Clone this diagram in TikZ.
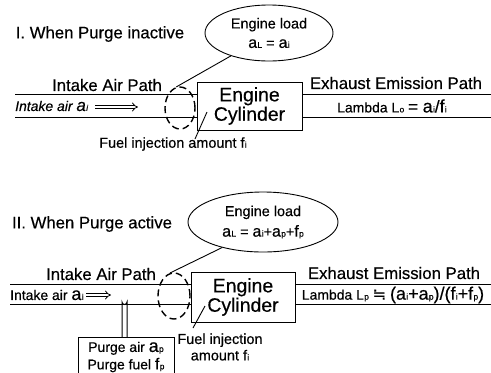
\documentclass[tikz,border=0pt]{standalone}
\usepackage{fontspec}
\setmainfont{Liberation Sans}[FakeBold=0.4]
\newfontfamily\symfont{DejaVu Sans}[FakeBold=0.4]
\usetikzlibrary{shapes.geometric,arrows.meta}
\newcommand\fs[1]{\fontsize{#1}{#1}\selectfont}
\newcommand\sbs[3]{{\fs{#1}#2}\kern0.3pt{\fs{8.5}#3}}
\begin{document}
\begin{tikzpicture}[x=1bp,y=-1bp,
  lbl/.style={inner sep=0pt,font=\fs{14}},
  ttl/.style={inner sep=0pt,font=\fs{16.8}},
  cyl/.style={draw,line width=1bp,minimum width=105bp,minimum height=48bp,align=center,font=\fs{19.5},inner sep=0pt},
  load/.style={draw,ellipse,line width=0.9bp,inner sep=0pt,align=center,font=\fs{14.5}},
  duct/.style={line width=1bp},
  dashell/.style={draw,ellipse,dashed,dash pattern=on 7bp off 4bp,line width=1.4bp,inner sep=0pt},
  lead/.style={line width=0.9bp},
  flow/.style={double,double distance=2.2bp,line width=0.8bp,-{Implies[]}}
]
\useasboundingbox (0,0) rectangle (491,372);
% ---------- Section I ----------
\node[ttl] (t1) at (100,34) {I. When Purge inactive};
\node[load,minimum width=128bp,minimum height=56bp] (e1) at (269,33)
  {Engine load\\[5pt]\sbs{16}{a}{L} = \sbs{16}{a}{i}};
\node[cyl] (c1) at (249.5,106) {Engine\\Cylinder};
\coordinate (i1a) at (15,94);
\coordinate (i1b) at (15,117);
\draw[duct] (i1a) -- (i1a -| c1.west);
\draw[duct] (i1b) -- (i1b -| c1.west);
\coordinate (x1a) at (491,94);
\coordinate (x1b) at (491,117);
\draw[duct] (x1a -| c1.east) -- (x1a);
\draw[duct] (x1b -| c1.east) -- (x1b);
\node[ttl] (ia1) at (107,85) {Intake Air Path};
\node[lbl,anchor=west,font=\fs{14}\itshape] (ai1) at (15,106) {Intake air \sbs{17}{a}{i}};
\coordinate (f1s) at (95,107);
\coordinate (f1e) at (138,107);
\draw[flow] (f1s) -- (f1e);
\node[dashell,minimum width=30bp,minimum height=42bp] (d1) at (180,108) {};
\draw[lead] (e1.211) -- (d1.100);
\coordinate (fl1a) at (195,139);
\coordinate (fl1b) at (207,112);
\draw[lead] (fl1a) -- (fl1b);
\node[lbl,font=\fs{14.5}] (fu1) at (173,144) {Fuel injection amount \sbs{14.5}{f}{i}};
\node[ttl] (ex1) at (396,83) {Exhaust Emission Path};
\node[lbl] (la1) at (392,106) {Lambda \sbs{14}{L}{o} {\fs{17}= \sbs{18}{a}{i}/\sbs{18}{f}{i}}};
% ---------- Section II ----------
\node[ttl] (t2) at (92,224) {II. When Purge active};
\node[load,minimum width=150bp,minimum height=60bp] (e2) at (263,222)
  {Engine load\\[5pt]\sbs{16}{a}{L} = \sbs{16}{a}{i}+\sbs{16}{a}{p}+\sbs{16}{f}{p}};
\node[cyl,minimum width=104bp,minimum height=50bp] (c2) at (243,297) {Engine\\Cylinder};
\coordinate (i2a) at (10,284);
\coordinate (i2b) at (10,304);
\draw[duct] (i2a) -- (i2a -| c2.west);
\draw[duct] (i2b) -- (i2b -| c2.west);
\coordinate (x2a) at (491,284);
\coordinate (x2b) at (491,304);
\draw[duct] (x2a -| c2.east) -- (x2a);
\draw[duct] (x2b -| c2.east) -- (x2b);
\node[ttl] (ia2) at (101,274) {Intake Air Path};
\node[lbl,anchor=west] (ai2) at (10,295) {Intake air \sbs{18}{a}{i}};
\coordinate (f2s) at (86,295);
\coordinate (f2e) at (111,295);
\draw[flow] (f2s) -- (f2e);
\node[dashell,minimum width=32bp,minimum height=46bp] (d2) at (174,296) {};
\draw[lead] (e2.212) -- (d2.100);
\coordinate (fl2a) at (193,328);
\coordinate (fl2b) at (205,306);
\draw[lead] (fl2a) -- (fl2b);
\node[lbl,align=center,font=\fs{14.5}] (fu2) at (220,347) {Fuel injection\\[2pt]amount \sbs{14.5}{f}{i}};
\node[ttl] (ex2) at (394,273) {Exhaust Emission Path};
\node[lbl] (la2) at (393,295) {Lambda \sbs{14}{L}{p} {\fs{16}\symfont ≒} {\fs{18}(\sbs{18}{a}{i}+\sbs{18}{a}{p})/(\sbs{18}{f}{i}+\sbs{18}{f}{p})}};
% purge supply
\node[lbl,align=center,font=\fs{14}] (pg) at (126,357) {Purge air \sbs{18}{a}{p}\\[2pt]Purge fuel \sbs{16}{f}{p}};
\coordinate (pbl) at (78,373);
\coordinate (pbr) at (174,373);
\draw[line width=1bp] (pbl) -- (78,337) -- (174,337) -- (pbr);
\coordinate (p1) at (122,337);
\coordinate (p2) at (127,337);
\draw[duct] (p1) -- (122,302) arc[start angle=180,end angle=360,radius=2.5bp] -- (p2);
\end{tikzpicture}
\end{document}
